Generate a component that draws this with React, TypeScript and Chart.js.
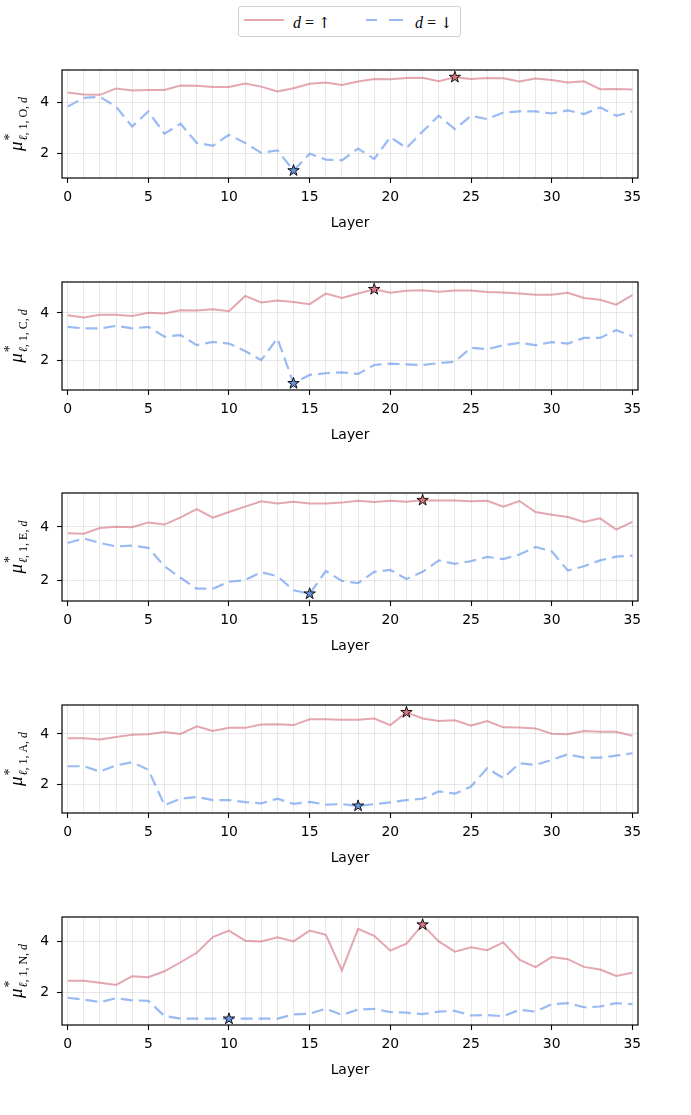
import React, { useEffect, useRef } from "react";
import { Chart, registerables } from "chart.js";

Chart.register(...registerables);
Chart.defaults.font.family = "DejaVu Sans";

// Layer indices on the x axis
const layers = Array.from({ length: 36 }, (_, i) => i);

// mu* per layer, trait O
const upO = [4.39, 4.31, 4.3, 4.55, 4.47, 4.49, 4.49, 4.66, 4.65, 4.61, 4.61, 4.74, 4.62, 4.43, 4.56, 4.73, 4.78, 4.68, 4.82, 4.92, 4.91, 4.96, 4.97, 4.83, 4.99, 4.92, 4.96, 4.95, 4.82, 4.94, 4.88, 4.78, 4.83, 4.52, 4.53, 4.51];
const downO = [3.84, 4.18, 4.22, 3.84, 3.06, 3.65, 2.78, 3.17, 2.42, 2.31, 2.74, 2.42, 2.03, 2.13, 1.34, 2.0, 1.77, 1.74, 2.2, 1.79, 2.65, 2.22, 2.87, 3.48, 2.96, 3.48, 3.35, 3.61, 3.65, 3.65, 3.57, 3.69, 3.55, 3.81, 3.48, 3.65];

// trait C
const upC = [3.9, 3.8, 3.92, 3.92, 3.87, 4.01, 3.97, 4.11, 4.1, 4.15, 4.07, 4.72, 4.44, 4.52, 4.46, 4.37, 4.82, 4.63, 4.82, 5.0, 4.85, 4.94, 4.96, 4.9, 4.95, 4.95, 4.89, 4.86, 4.82, 4.77, 4.77, 4.85, 4.63, 4.56, 4.35, 4.75];
const downC = [3.41, 3.34, 3.34, 3.45, 3.34, 3.41, 2.99, 3.06, 2.63, 2.77, 2.7, 2.38, 2.0, 2.92, 1.01, 1.37, 1.44, 1.48, 1.41, 1.79, 1.85, 1.82, 1.79, 1.87, 1.93, 2.52, 2.46, 2.63, 2.73, 2.63, 2.76, 2.7, 2.94, 2.94, 3.27, 3.01];

// trait E
const upE = [3.76, 3.75, 3.96, 4.01, 3.99, 4.17, 4.09, 4.36, 4.67, 4.35, 4.56, 4.76, 4.96, 4.88, 4.94, 4.88, 4.88, 4.91, 4.98, 4.93, 4.98, 4.94, 5.0, 4.99, 4.99, 4.96, 4.98, 4.76, 4.97, 4.56, 4.46, 4.37, 4.19, 4.32, 3.9, 4.19];
const downE = [3.4, 3.57, 3.4, 3.27, 3.3, 3.22, 2.53, 2.1, 1.69, 1.69, 1.95, 2.01, 2.31, 2.16, 1.63, 1.5, 2.35, 1.98, 1.9, 2.32, 2.39, 2.05, 2.32, 2.75, 2.62, 2.72, 2.88, 2.8, 2.97, 3.25, 3.09, 2.37, 2.53, 2.75, 2.89, 2.93];

// trait A
const upA = [3.83, 3.83, 3.78, 3.88, 3.97, 3.99, 4.08, 4.0, 4.3, 4.12, 4.24, 4.24, 4.37, 4.38, 4.35, 4.58, 4.58, 4.56, 4.56, 4.61, 4.35, 4.85, 4.61, 4.51, 4.54, 4.33, 4.51, 4.26, 4.25, 4.22, 4.01, 3.99, 4.12, 4.09, 4.09, 3.93];
const downA = [2.73, 2.73, 2.52, 2.76, 2.89, 2.59, 1.2, 1.45, 1.52, 1.4, 1.4, 1.32, 1.27, 1.45, 1.25, 1.33, 1.22, 1.24, 1.17, 1.24, 1.31, 1.4, 1.45, 1.74, 1.65, 1.93, 2.65, 2.26, 2.85, 2.78, 2.98, 3.2, 3.07, 3.07, 3.15, 3.24];

// trait N
const upN = [2.47, 2.47, 2.39, 2.31, 2.65, 2.61, 2.84, 3.19, 3.56, 4.17, 4.42, 4.03, 4.0, 4.16, 4.0, 4.42, 4.26, 2.87, 4.49, 4.22, 3.64, 3.91, 4.65, 4.0, 3.6, 3.77, 3.66, 3.96, 3.29, 3.0, 3.39, 3.31, 3.01, 2.91, 2.66, 2.78];
const downN = [1.81, 1.74, 1.64, 1.79, 1.71, 1.69, 1.1, 1.0, 1.0, 1.0, 0.99, 1.0, 1.0, 1.0, 1.16, 1.19, 1.38, 1.14, 1.35, 1.38, 1.25, 1.23, 1.17, 1.27, 1.3, 1.12, 1.14, 1.09, 1.34, 1.27, 1.56, 1.6, 1.44, 1.47, 1.6, 1.56];

const yTicks = [2, 4];
const xLabelStep = 5;

const UP_LINE = "rgba(212,112,126,0.62)";
const DOWN_LINE = "rgba(100,149,237,0.65)";
const UP_STAR = "rgb(214,118,130)";
const DOWN_STAR = "rgb(104,146,222)";

const PANEL_W = 691;
const PANEL_H = 175;
const PAD_TOP = 12;
const AXIS_LEFT = 62;
const PLOT_RIGHT = 638;
const X_AXIS_H = 55;

const SERIF = '"Liberation Serif", "DejaVu Serif", serif';

type PanelProps = {
  letter: string;
  up: number[];
  down: number[];
  yMin: number;
  yMax: number;
  top: number;
};

function drawStar(ctx: CanvasRenderingContext2D, cx: number, cy: number, R: number, fill: string) {
  const r = R * 0.381966;
  ctx.beginPath();
  for (let k = 0; k < 10; k++) {
    const ang = -Math.PI / 2 + (k * Math.PI) / 5;
    const rad = k % 2 === 0 ? R : r;
    const px = cx + rad * Math.cos(ang);
    const py = cy + rad * Math.sin(ang);
    if (k === 0) ctx.moveTo(px, py);
    else ctx.lineTo(px, py);
  }
  ctx.closePath();
  ctx.fillStyle = fill;
  ctx.fill();
  ctx.lineWidth = 0.9;
  ctx.strokeStyle = "#000";
  ctx.stroke();
}

function argExtreme(vals: number[], better: (a: number, b: number) => boolean) {
  let best = 0;
  vals.forEach((v, i) => {
    if (better(v, vals[best])) best = i;
  });
  return best;
}

function Panel({ letter, up, down, yMin, yMax, top }: PanelProps) {
  const ref = useRef<HTMLCanvasElement | null>(null);

  useEffect(() => {
    if (!ref.current) return;
    const upStar = argExtreme(up, (a, b) => a > b);
    const downStar = argExtreme(down, (a, b) => a < b);

    const frameAndStars = {
      id: "frameAndStars",
      afterDatasetsDraw(chart: any) {
        const { ctx, chartArea: a, scales } = chart;
        ctx.save();
        ctx.strokeStyle = "#000";
        ctx.lineWidth = 1.2;
        ctx.strokeRect(a.left, a.top, a.right - a.left, a.bottom - a.top);
        drawStar(ctx, scales.x.getPixelForValue(layers[upStar]), scales.y.getPixelForValue(up[upStar]), 6, UP_STAR);
        drawStar(ctx, scales.x.getPixelForValue(layers[downStar]), scales.y.getPixelForValue(down[downStar]), 6, DOWN_STAR);
        ctx.restore();
      },
    };

    const yTitle = {
      id: "yTitle",
      afterDraw(chart: any) {
        const { ctx, chartArea: a } = chart;
        const muFont = `italic 19px ${SERIF}`;
        const subIt = `italic 12px ${SERIF}`;
        const subRm = `12px ${SERIF}`;
        const pieces: [string, string][] = [
          ["ℓ", subIt],
          [", 1, ", subRm],
          [letter, subRm],
          [", ", subRm],
          ["d", subIt],
        ];
        ctx.save();
        ctx.font = muFont;
        const wMu = ctx.measureText("μ").width;
        let wSub = 0;
        pieces.forEach(([t, f]) => {
          ctx.font = f;
          wSub += ctx.measureText(t).width;
        });
        const total = wMu + 1 + wSub;
        ctx.translate(22, (a.top + a.bottom) / 2);
        ctx.rotate(-Math.PI / 2);
        ctx.fillStyle = "#000";
        ctx.textBaseline = "alphabetic";
        let x = -total / 2;
        ctx.font = muFont;
        ctx.fillText("μ", x, 0);
        x += wMu + 1;
        ctx.font = `14px ${SERIF}`;
        ctx.fillText("*", x, -8);
        pieces.forEach(([t, f]) => {
          ctx.font = f;
          ctx.fillText(t, x, 5);
          x += ctx.measureText(t).width;
        });
        ctx.restore();
      },
    };

    const tickFont = { family: "DejaVu Sans", size: 13.9 };

    const chart = new Chart(ref.current, {
      type: "line",
      data: {
        datasets: [
          {
            label: "down",
            data: layers.map((l, i) => ({ x: l, y: down[i] })),
            borderColor: DOWN_LINE,
            borderWidth: 2.2,
            borderDash: [12, 6],
            pointRadius: 0,
            tension: 0,
            order: 0,
          },
          {
            label: "up",
            data: layers.map((l, i) => ({ x: l, y: up[i] })),
            borderColor: UP_LINE,
            borderWidth: 2,
            pointRadius: 0,
            tension: 0,
            order: 1,
          },
        ],
      },
      options: {
        animation: false,
        responsive: false,
        devicePixelRatio: 1,
        events: [],
        layout: { padding: { top: PAD_TOP, left: 0, right: PANEL_W - PLOT_RIGHT, bottom: 0 } },
        plugins: { legend: { display: false }, tooltip: { enabled: false } },
        scales: {
          x: {
            type: "linear",
            min: -0.35,
            max: 35.35,
            afterBuildTicks: (s: any) => {
              s.ticks = layers.map((v) => ({ value: v }));
            },
            afterFit: (s: any) => {
              s.height = X_AXIS_H;
              s.paddingLeft = 0;
              s.paddingRight = 0;
            },
            ticks: {
              autoSkip: false,
              maxRotation: 0,
              padding: 6,
              color: "#000",
              font: tickFont,
              callback: (v: any) => (Number(v) % xLabelStep === 0 ? String(v) : ""),
            },
            grid: {
              color: "rgba(0,0,0,0.09)",
              lineWidth: 1,
              tickLength: 5,
              tickWidth: 1.1,
              tickColor: (c: any) =>
                c.tick && c.tick.value % xLabelStep === 0 ? "#000" : "rgba(0,0,0,0)",
            },
            border: { display: false },
            title: {
              display: true,
              text: "Layer",
              color: "#000",
              font: tickFont,
              padding: { top: 0, bottom: 1 },
            },
          },
          y: {
            type: "linear",
            min: yMin,
            max: yMax,
            afterBuildTicks: (s: any) => {
              s.ticks = yTicks.map((v) => ({ value: v }));
            },
            afterFit: (s: any) => {
              s.width = AXIS_LEFT;
              s.paddingTop = 0;
              s.paddingBottom = 0;
            },
            ticks: { padding: 8, color: "#000", font: tickFont },
            grid: {
              color: "rgba(0,0,0,0.09)",
              lineWidth: 1,
              tickLength: 5,
              tickWidth: 1.1,
              tickColor: "#000",
            },
            border: { display: false },
          },
        },
      },
      plugins: [frameAndStars, yTitle],
    } as any);

    return () => chart.destroy();
  }, [letter, up, down, yMin, yMax]);

  return (
    <canvas
      ref={ref}
      width={PANEL_W}
      height={PANEL_H}
      style={{ position: "absolute", left: 0, top: top - PAD_TOP, width: PANEL_W, height: PANEL_H, display: "block" }}
    />
  );
}

const panels: PanelProps[] = [
  { letter: "O", up: upO, down: downO, yMin: 1.05, yMax: 5.27, top: 70 },
  { letter: "C", up: upC, down: downC, yMin: 0.73, yMax: 5.31, top: 282 },
  { letter: "E", up: upE, down: downE, yMin: 1.23, yMax: 5.27, top: 493 },
  { letter: "A", up: upA, down: downA, yMin: 0.89, yMax: 5.14, top: 705 },
  { letter: "N", up: upN, down: downN, yMin: 0.75, yMax: 4.95, top: 917 },
];

function LegendLabel({ left, arrow }: { left: number; arrow: string }) {
  return (
    <div
      style={{
        position: "absolute",
        left,
        top: 7,
        fontFamily: SERIF,
        fontSize: 16,
        lineHeight: "18px",
        color: "#000",
        whiteSpace: "nowrap",
      }}
    >
      <i>d</i>
      <span style={{ margin: "0 4px" }}>=</span>
      <span style={{ fontFamily: '"DejaVu Serif", serif', fontSize: 15 }}>{arrow}</span>
    </div>
  );
}

function Legend() {
  return (
    <div
      style={{
        position: "absolute",
        left: 238,
        top: 6,
        width: 223,
        height: 31,
        boxSizing: "border-box",
        border: "1px solid #d0d0d0",
        borderRadius: 3,
        background: "#fff",
      }}
    >
      <div style={{ position: "absolute", left: 5, top: 12, width: 40, height: 2, background: UP_LINE }} />
      <LegendLabel left={54} arrow="↑" />
      <div style={{ position: "absolute", left: 127, top: 12, width: 11, height: 2.2, background: DOWN_LINE }} />
      <div style={{ position: "absolute", left: 150, top: 12, width: 14, height: 2.2, background: DOWN_LINE }} />
      <LegendLabel left={176} arrow="↓" />
    </div>
  );
}

export default function App() {
  return (
    <div style={{ position: "absolute", left: 0, top: 0, width: 691, height: 1115, background: "#fff" }}>
      <Legend />
      {panels.map((p) => (
        <Panel key={p.letter} {...p} />
      ))}
    </div>
  );
}
